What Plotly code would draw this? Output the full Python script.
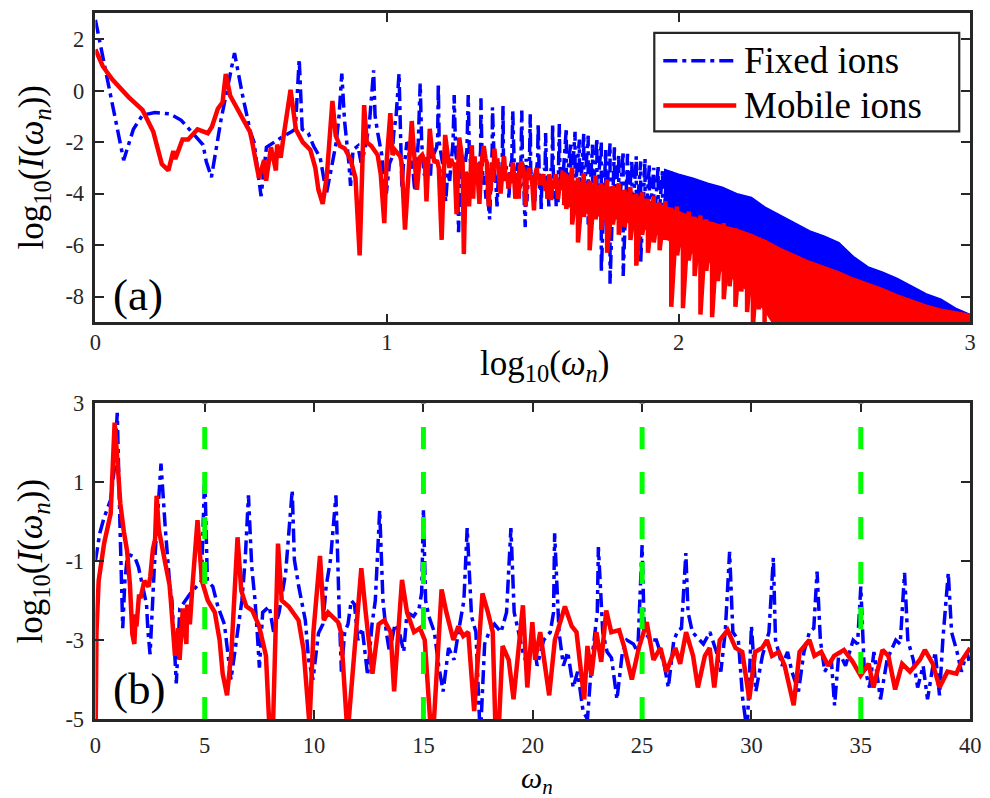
import numpy as np
import plotly.graph_objects as go

# ---------------- data ----------------
# spectrum vs omega_n (0..40), used in panel (b) and, as log10(omega), in panel (a)
omega_fixed = [0.0, 0.2, 0.4, 0.7, 0.86, 1.0, 1.12, 1.25, 1.35, 1.45, 1.6, 1.8, 1.97, 2.14, 2.34, 2.4, 2.5, 2.7,
               3.0, 3.2, 3.4, 3.5, 3.7, 3.86, 4.1, 4.37, 4.7, 4.85, 5.0, 5.12, 5.37, 5.6, 5.9, 6.2, 6.45, 6.7,
               6.85, 7.0, 7.15, 7.3, 7.4, 7.5, 7.65, 7.95, 8.15, 8.4, 8.7, 9.0, 9.1, 9.3, 9.6, 9.75, 9.95,
               10.2, 10.4, 10.55, 10.75, 11.0, 11.15, 11.25, 11.4, 11.55, 11.7, 11.85, 12.0, 12.2, 12.45,
               12.65, 12.8, 13.0, 13.15, 13.3, 13.45, 13.7, 13.9, 14.1, 14.25, 14.55, 14.8, 14.92, 15.0,
               15.1, 15.25, 15.5, 15.7, 15.9, 16.15, 16.4, 16.6, 16.85, 17.0, 17.2, 17.4, 17.6, 17.8, 18.0,
               18.25, 18.55, 18.8, 19.0, 19.15, 19.35, 19.55, 19.75, 20.0, 20.2, 20.5, 20.8, 20.95, 21.0,
               21.2, 21.4, 21.6, 21.85, 22.05, 22.3, 22.5, 22.7, 22.85, 22.95, 23.0, 23.2, 23.4, 23.6,
               23.85, 24.1, 24.3, 24.6, 24.8, 25.0, 25.1, 25.4, 25.65, 26.0, 26.2, 26.45, 26.65, 26.8,
               27.0, 27.1, 27.3, 27.8, 28.1, 28.4, 28.6, 28.8, 29.0, 29.15, 29.4, 29.6, 29.8, 30.0, 30.2,
               30.5, 30.8, 31.0, 31.1, 31.4, 31.65, 31.85, 32.15, 32.4, 32.65, 32.85, 33.0, 33.15, 33.35,
               33.65, 33.8, 34.0, 34.3, 34.65, 34.85, 35.0, 35.15, 35.4, 35.6, 35.9, 36.2, 36.6, 36.8,
               37.0, 37.15, 37.4, 37.6, 37.85, 38.05, 38.4, 38.6, 38.75, 39.0, 39.15, 39.4, 39.6, 39.85, 40.0]
logI_fixed = [-1.0, -0.3, 0.1, 0.55, 1.3, 2.75, 0.0, -2.7, -1.5, -0.95, -0.85, -0.9, -1.15, -1.6, -2.1, -2.75, -3.36, -1.1,
              1.46, -0.2, -1.6, -2.0, -4.1, -2.2, -2.0, -1.8, -1.6, -1.5, 1.24, -1.5, -1.65, -2.15, -2.6, -4.0, -3.0, -2.0,
              -0.97, 0.66, -1.15, -2.0, -2.8, -3.7, -2.3, -2.15, -2.8, -2.3, -1.3, 0.79, -0.97, -1.65, -2.5, -3.5, -4.0,
              -2.83, -2.6, -1.65, -0.97, 0.66, -2.3, -3.8, -2.8, -2.6, -2.0, -2.1, -3.0, -2.7, -3.9,
              -2.6, -2.0, 0.28, -2.0, -2.8, -3.3, -2.6, -2.8, -3.3, -2.3, -2.4, -2.2, -1.8, 0.28,
              -2.0, -2.4, -2.8, -3.65, -4.3, -3.2, -3.5, -2.8, -2.0, -0.17, -2.4, -2.8, -5.5, -3.1, -2.8,
              -2.6, -2.8, -2.3, -0.17, -2.3, -2.8, -3.3, -3.65, -2.9, -3.65, -3.0, -2.8, -2.3, -0.3,
              -2.8, -3.65, -3.3, -4.2, -3.8, -4.8, -5.0, -3.5, -2.8, -2.3, -0.65, -2.8, -3.3, -3.45,
              -4.5, -3.3, -3.0, -3.1, -3.3, -0.6, -2.8, -3.0, -3.0, -3.6, -4.2, -3.0, -2.75, -2.7,
              -0.8, -2.3, -2.8, -3.1, -2.8, -3.3, -3.8, -2.8, -0.77, -2.8, -3.0, -4.5, -5.3, -2.65, -4.3,
              -3.4, -2.8, -0.92, -3.0, -3.65, -3.3, -3.8, -4.3, -3.3, -2.8, -2.7, -1.27, -3.0, -3.8,
              -3.5, -4.65, -3.3, -3.65, -3.0, -3.1, -1.65, -3.65, -4.2, -3.3, -4.5, -3.5, -3.0, -3.1,
              -1.3, -3.0, -3.5, -4.2, -3.65, -4.5, -3.3, -4.4, -3.0, -1.3, -2.8, -3.3, -3.8, -3.3, -3.65]

omega_mobile = [0.0, 0.05, 0.15, 0.4, 0.7, 0.88, 1.0, 1.06, 1.14, 1.30, 1.45, 1.58, 1.69, 1.78, 1.85, 1.88, 1.99,
                2.08, 2.24, 2.43, 2.51, 2.63, 2.73, 2.80, 2.90, 3.21, 3.39, 3.45, 3.64, 3.79, 3.85, 4.0, 4.16,
                4.2, 4.32, 4.43, 4.67, 4.87, 5.14, 5.46, 5.68, 5.82, 6.02, 6.22, 6.5, 6.67, 6.9, 7.17, 7.49,
                7.8, 8.06, 8.35, 8.52, 8.84, 9.29, 9.52, 9.79, 9.97, 10.27, 10.45, 10.64, 11.1, 11.23, 11.53,
                11.77, 12.16, 12.36, 12.67, 12.95, 13.21, 13.5, 13.66, 14.02, 14.25, 14.57, 14.84, 15.06,
                15.4, 15.83, 16.05, 16.37, 16.6, 16.82, 17.05, 17.32, 17.7, 17.95, 18.17, 18.35, 18.62,
                18.9, 19.12, 19.55, 19.75, 19.98, 20.11, 20.34, 20.56, 20.75, 21.01, 21.47, 21.78, 22.0,
                22.35, 22.5, 22.68, 22.91, 23.13, 23.36, 23.59, 23.95, 24.17, 24.53, 24.85, 25.21, 25.52,
                25.84, 26.11, 26.52, 26.74, 27.01, 27.33, 27.55, 27.87, 28.09, 28.3, 28.55, 28.91, 29.27,
                29.58, 29.9, 30.17, 30.49, 30.71, 30.94, 31.25, 31.52, 31.93, 32.2, 32.65, 32.88, 33.19,
                33.51, 33.78, 34.23, 34.63, 34.99, 35.36, 35.58, 35.99, 36.26, 36.57, 36.89, 37.25, 37.7,
                37.93, 38.29, 38.6, 38.96, 39.37, 39.64, 40.0]
logI_mobile = [-6.0, -2.8, -1.5, -0.55, 0.2, 2.5, 1.6, 0.95, 0.45, -0.25, -0.75, -1.6, -2.85, -3.1, -2.35, -2.65, -1.9,
               -1.9, -1.5, -1.65, -1.4, -0.7, -0.45, 0.65, -0.2, -1.1, -1.6, -2.0, -3.4, -2.7, -3.5, -2.2, -3.1,
               -2.1, -2.6, -1.7, 0.03, -1.5, -2.0, -2.3, -3.0, -3.85, -4.4, -3.3, -0.4, -1.75, -2.15, -2.25, -2.65,
               -3.4, -6.4, -0.56, -2.0, -2.15, -2.5, -3.25, -5.15, -2.8, -0.87, -2.5, -2.3, -2.55, -2.8, -5.4,
               -3.65, -1.18, -2.3, -3.85, -2.6, -2.5, -2.8, -4.3, -1.48, -2.3, -2.8, -2.7, -3.0,
               -5.8, -1.72, -2.3, -3.0, -2.65, -2.9, -2.8, -4.8, -1.82, -2.3, -2.8, -6.35, -3.15,
               -3.5, -4.5, -2.12, -4.2, -2.55, -3.5, -2.8, -3.65, -4.4, -3.0, -2.15, -2.65, -2.8,
               -4.5, -3.15, -3.9, -2.8, -3.55, -2.25, -2.8, -2.75, -3.15, -4.0, -3.2, -2.55, -3.5,
               -3.2, -3.8, -3.2, -3.6, -2.8, -3.4, -4.2, -3.4, -3.2, -4.2, -3.0, -2.75, -3.2,
               -3.3, -4.5, -3.3, -3.2, -3.0, -3.4, -3.3, -3.65, -4.65, -3.3, -3.0, -3.4, -3.3,
               -3.65, -3.4, -3.25, -3.55, -3.9, -3.6, -4.2, -3.25, -3.4, -4.25, -3.6, -3.8, -3.5,
               -3.25, -3.6, -4.2, -3.8, -3.85, -3.5, -3.2]

# panel (a), omega > 40: dense harmonics read as per-column top / bottom values (log10 omega)
fixed_hf_logw = [1.615, 1.630, 1.645, 1.660, 1.675, 1.690, 1.705, 1.720, 1.735, 1.750, 1.765, 1.780, 1.795,
                 1.810, 1.825, 1.840, 1.855, 1.870, 1.885, 1.900, 1.915, 1.930, 1.945, 1.960, 1.975, 1.990]
fixed_hf_top = [-1.45, -2.0, -1.6, -1.9, -1.65, -1.75, -2.1, -1.85, -2.0, -2.3, -2.05, -2.2, -2.5,
                -2.35, -2.45, -2.7, -2.55, -2.75, -2.65, -2.85, -3.0, -2.9, -3.1, -3.05, -3.15, -3.25]
fixed_hf_bot = [-3.9, -4.3, -4.0, -4.6, -4.2, -5.2, -4.4, -4.3, -7.05, -4.6, -7.5, -4.8, -5.0,
                -7.2, -5.0, -5.3, -5.1, -6.7, -5.4, -5.2, -5.6, -5.3, -5.8, -5.5, -6.0, -5.7]

fixed_band_logw = [1.95, 2.00, 2.05, 2.10, 2.15, 2.20, 2.25, 2.30, 2.35, 2.40, 2.45, 2.50, 2.55, 2.60, 2.65,
                   2.70, 2.75, 2.80, 2.85, 2.90, 2.95, 3.00]
fixed_band_top = [-3.05, -3.25, -3.4, -3.6, -3.75, -4.0, -4.15, -4.55, -4.85, -5.15, -5.45, -5.65, -5.9, -6.45,
                  -6.85, -7.05, -7.3, -7.6, -7.9, -8.1, -8.45, -8.7]
fixed_band_bot = [-4.8, -5.0, -5.2, -5.4, -5.6, -5.8, -6.0, -6.3, -6.6, -6.9, -9.5, -9.5, -9.5, -9.5, -9.5,
                  -9.5, -9.5, -9.5, -9.5, -9.5, -9.5, -9.5]

mobile_hf_logw = [1.615, 1.635, 1.655, 1.675, 1.695, 1.715, 1.735, 1.755, 1.775, 1.795, 1.815, 1.835, 1.855,
                  1.875, 1.895, 1.915, 1.935, 1.955, 1.975, 1.995, 2.015, 2.035, 2.055, 2.075, 2.095, 2.115,
                  2.135, 2.155, 2.175, 2.195, 2.215, 2.235, 2.255, 2.275, 2.295]
mobile_hf_top = [-3.3, -3.0, -3.4, -3.2, -3.5, -3.3, -3.6, -3.45, -3.7, -3.6, -3.85, -3.75, -4.0,
                 -3.95, -4.2, -4.1, -4.35, -4.3, -4.55, -4.5, -4.8, -4.7, -4.9, -4.85, -5.0, -5.1,
                 -5.2, -5.15, -5.3, -5.35, -5.45, -5.55, -5.65, -5.7, -5.8]
mobile_hf_bot = [-4.6, -5.2, -5.9, -4.9, -6.2, -5.0, -5.4, -6.3, -5.2, -5.6, -5.3, -5.8, -6.8,
                 -5.6, -6.3, -5.9, -6.2, -5.8, -8.4, -6.4, -8.45, -6.6, -7.2, -8.7, -7.0, -8.8,
                 -7.4, -8.1, -7.6, -8.4, -7.8, -8.6, -9.2, -8.5, -9.2]

mobile_band_logw = [1.60, 1.65, 1.70, 1.75, 1.80, 1.85, 1.90, 1.95, 2.00, 2.05, 2.10, 2.15, 2.20, 2.25,
                    2.30, 2.35, 2.40, 2.45, 2.50, 2.55, 2.60, 2.65, 2.70, 2.75, 2.80, 2.85, 2.90, 2.95, 3.00]
mobile_band_top = [-3.4, -3.55, -3.65, -3.75, -3.9, -4.1, -4.3, -4.5, -4.7, -4.95, -5.1, -5.25, -5.4, -5.6,
                   -5.85, -6.15, -6.4, -6.65, -6.85, -7.05, -7.3, -7.5, -7.7, -7.95, -8.15, -8.35, -8.5,
                   -8.6, -8.7]
mobile_band_bot = [-4.4, -4.6, -4.8, -4.9, -5.0, -5.2, -5.4, -5.7, -6.0, -6.3, -6.6, -7.0, -7.4, -7.9,
                   -8.6, -9.5, -9.5, -9.5, -9.5, -9.5, -9.5, -9.5, -9.5, -9.5, -9.5, -9.5, -9.5, -9.5, -9.5]

marker_lines = [5, 15, 25, 35]

xticks_a = [0, 1, 2, 3]
yticks_a = [-8, -6, -4, -2, 0, 2]
xticks_b = [0, 5, 10, 15, 20, 25, 30, 35, 40]
yticks_b = [-5, -3, -1, 1, 3]

# ---------------- styles ----------------
BLUE = "#0000ff"
RED = "#ff0000"
GREEN = "#00ff00"
AX = "#262626"
FONT = "Liberation Serif"
DASHDOT = "14px,5px,4px,5px"
W, H = 990, 798
# the captured page comes out slightly reduced and offset; map target pixels onto figure pixels
SX, OX = 0.983, 4.6
SY, OY = 0.974, 9.0


def px_x(p, hi=1.0):
    return min(hi, max(0.0, (p - OX) / SX / W))


def px_y(p, hi=1.0):
    return min(hi, max(0.0, 1 - (p - OY) / SY / H))


def zig(xs, top, bot):
    xx = np.repeat(np.asarray(xs, float), 2)
    yy = np.column_stack([top, bot]).ravel()
    return xx, yy


def band(xs, top, bot):
    return list(xs) + list(xs)[::-1], list(top) + list(bot)[::-1]


fig = go.Figure()

wf = np.asarray(omega_fixed)
vf = np.asarray(logI_fixed)
wm = np.asarray(omega_mobile)
vm = np.asarray(logI_mobile)

# ----- panel (a) -----
zx, zy = zig(fixed_hf_logw, fixed_hf_top, fixed_hf_bot)
bx, by = band(fixed_band_logw, fixed_band_top, fixed_band_bot)
fig.add_trace(go.Scatter(x=bx, y=by, fill="toself", fillcolor=BLUE, mode="lines",
                         line=dict(color=BLUE, width=1.5), xaxis="x", yaxis="y", showlegend=False,
                         hoverinfo="skip"))
fig.add_trace(go.Scatter(x=np.concatenate([np.log10(wf[wf >= 1]), zx]),
                         y=np.concatenate([vf[wf >= 1], zy]),
                         mode="lines", line=dict(color=BLUE, width=3.5, dash=DASHDOT),
                         xaxis="x", yaxis="y", name="Fixed ions", showlegend=False))

zx, zy = zig(mobile_hf_logw, mobile_hf_top, mobile_hf_bot)
bx, by = band(mobile_band_logw, mobile_band_top, mobile_band_bot)
fig.add_trace(go.Scatter(x=bx, y=by, fill="toself", fillcolor=RED, mode="lines",
                         line=dict(color=RED, width=2), xaxis="x", yaxis="y", showlegend=False,
                         hoverinfo="skip"))
fig.add_trace(go.Scatter(x=np.concatenate([np.log10(wm[wm >= 1]), zx]),
                         y=np.concatenate([vm[wm >= 1], zy]),
                         mode="lines", line=dict(color=RED, width=4.5),
                         xaxis="x", yaxis="y", name="Mobile ions", showlegend=False))

# ----- panel (b) -----
fig.add_trace(go.Scatter(x=wf, y=vf, mode="lines", line=dict(color=BLUE, width=3.5, dash=DASHDOT),
                         xaxis="x2", yaxis="y2", showlegend=False))
fig.add_trace(go.Scatter(x=wm, y=vm, mode="lines", line=dict(color=RED, width=4.5),
                         xaxis="x2", yaxis="y2", showlegend=False))

shapes = []
for v in marker_lines:
    shapes.append(dict(type="line", xref="x2", yref="y2", x0=v, x1=v, y0=-5, y1=3,
                       line=dict(color=GREEN, width=5, dash="22px,23px"), layer="above"))

# manual legend
shapes.append(dict(type="rect", xref="paper", yref="paper", x0=px_x(653), x1=px_x(958),
                   y0=px_y(129), y1=px_y(30), line=dict(color=AX, width=2.2), fillcolor="white",
                   layer="above"))
shapes.append(dict(type="line", xref="paper", yref="paper", x0=px_x(662), x1=px_x(735),
                   y0=px_y(58), y1=px_y(58), line=dict(color=BLUE, width=3.5, dash=DASHDOT), layer="above"))
shapes.append(dict(type="line", xref="paper", yref="paper", x0=px_x(662), x1=px_x(735),
                   y0=px_y(103), y1=px_y(103), line=dict(color=RED, width=4.5), layer="above"))

ann = []
ytitle = "log<sub>10</sub>(<i>I</i>(<i>ω</i><sub><i>n</i></sub>))"
ann.append(dict(text=ytitle, x=px_x(32), y=px_y(165), textangle=-90, font=dict(size=35)))
ann.append(dict(text=ytitle, x=px_x(32), y=px_y(561), textangle=-90, font=dict(size=35)))
ann.append(dict(text="log<sub>10</sub>(<i>ω</i><sub><i>n</i></sub>)", x=px_x(544), y=px_y(364),
                font=dict(size=35)))
ann.append(dict(text="<i>ω</i><sub><i>n</i></sub>", x=px_x(536), y=px_y(781), font=dict(size=30)))
ann.append(dict(text="(a)", x=px_x(110), y=px_y(294), xanchor="left", font=dict(size=45)))
ann.append(dict(text="(b)", x=px_x(110), y=px_y(690), xanchor="left", font=dict(size=45)))
ann.append(dict(text="Fixed ions", x=px_x(741), y=px_y(58), xanchor="left", font=dict(size=37)))
ann.append(dict(text="Mobile ions", x=px_x(741), y=px_y(103), xanchor="left", font=dict(size=37)))
for a in ann:
    a.update(xref="paper", yref="paper", showarrow=False)
    a.setdefault("xanchor", "center")
    a["yanchor"] = "middle"
    a["font"].update(family=FONT, color="black")

axis_common = dict(showline=True, linewidth=2.5, linecolor=AX, mirror="ticks", ticks="inside",
                   ticklen=9, tickwidth=2.2, tickcolor=AX, showgrid=False, zeroline=False,
                   tickfont=dict(family=FONT, size=22.5, color=AX), fixedrange=True)
xdom = [px_x(94), px_x(981, hi=981 / W)]


def lab(vals):
    return [str(v) for v in vals]


fig.update_layout(
    width=W, height=H, margin=dict(l=0, r=0, t=0, b=0),
    paper_bgcolor="white", plot_bgcolor="white", showlegend=False,
    xaxis=dict(domain=xdom, range=[0, 3], anchor="y", tickvals=xticks_a, ticktext=lab(xticks_a),
               ticklabelstandoff=-2, **axis_common),
    yaxis=dict(domain=[px_y(321), px_y(6, hi=1 - 1.5 / H)], range=[-9, 3], anchor="x", tickvals=yticks_a,
               ticktext=lab(yticks_a), ticklabelstandoff=4, **axis_common),
    xaxis2=dict(domain=xdom, range=[0, 40], anchor="y2", tickvals=xticks_b, ticktext=lab(xticks_b),
                ticklabelstandoff=4, **axis_common),
    yaxis2=dict(domain=[px_y(720), px_y(402)], range=[-5, 3], anchor="x2", tickvals=yticks_b,
                ticktext=lab(yticks_b), ticklabelstandoff=4, **axis_common),
    shapes=shapes, annotations=ann,
)

fig.write_html("out.html")
